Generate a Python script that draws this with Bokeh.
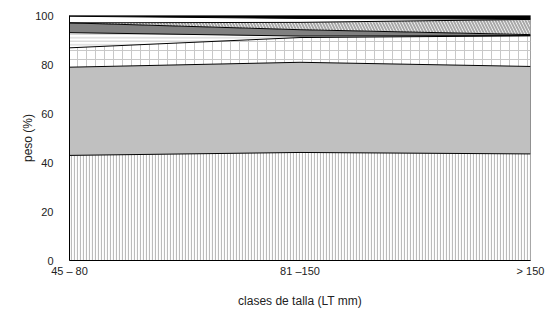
from bokeh.plotting import figure
from bokeh.models import Range1d, FixedTicker
from bokeh.embed import file_html
from bokeh.resources import INLINE

categories = ["45 – 80", "81 –150", "> 150"]
s_vertical = [42.9, 44.1, 43.5]
s_gray = [36.0, 36.8, 35.7]
s_grid = [7.9, 10.1, 12.5]
s_horiz = [6.2, 0.6, 0.1]
s_dark = [4.0, 2.6, 0.4]
s_diag = [0.0, 3.0, 6.2]
s_white = [2.7, 1.6, 0.1]
s_black = [0.3, 1.2, 1.5]
y_ticks = [0, 20, 40, 60, 80, 100]

x = list(range(len(categories)))

p = figure(width=548, height=310, output_backend="svg", toolbar_location=None,
           x_range=Range1d(0, 2), y_range=Range1d(0, 100),
           min_border_left=69, min_border_right=18, min_border_top=15, min_border_bottom=50)

layers = [
    (s_vertical, dict(fill_color="white", hatch_pattern="vertical_line", hatch_color="#bcbcbc", hatch_scale=3, hatch_weight=1.2)),
    (s_gray, dict(fill_color="#c0c0c0")),
    (s_grid, dict(fill_color="white", hatch_pattern="cross", hatch_color="#c8c8c8", hatch_scale=9, hatch_weight=1)),
    (s_horiz, dict(fill_color="white", hatch_pattern="horizontal_line", hatch_color="#c8c8c8", hatch_scale=3.5, hatch_weight=1)),
    (s_dark, dict(fill_color="#808080")),
    (s_diag, dict(fill_color="white", hatch_pattern="left_diagonal_line", hatch_color="#a8a8a8", hatch_scale=6, hatch_weight=2)),
    (s_white, dict(fill_color="white")),
    (s_black, dict(fill_color="#000000")),
]

base = [0.0] * len(x)
for vals, style in layers:
    top = [b + v for b, v in zip(base, vals)]
    p.varea(x=x, y1=base, y2=top, **style)
    base = top

# boundary lines
base = [0.0] * len(x)
for vals, style in layers[:-1]:
    top = [b + v for b, v in zip(base, vals)]
    p.line(x=x, y=top, line_color="#000000", line_width=1)
    base = top

p.grid.visible = False
p.outline_line_color = "#808080"
p.outline_line_width = 1

p.xaxis.ticker = FixedTicker(ticks=x)
p.xaxis.major_label_overrides = {i: c for i, c in enumerate(categories)}
p.yaxis.ticker = FixedTicker(ticks=y_ticks)
p.xaxis.axis_label = "clases de talla (LT mm)"
p.yaxis.axis_label = "peso (%)"

for ax in (p.xaxis, p.yaxis):
    ax.major_tick_line_color = None
    ax.minor_tick_line_color = None
    ax.axis_line_color = "#000000"
    ax.major_label_text_font = "Liberation Sans"
    ax.major_label_text_font_size = "11px"
    ax.major_label_text_color = "#222222"
    ax.axis_label_text_font = "Liberation Sans"
    ax.axis_label_text_font_size = "12px"
    ax.axis_label_text_font_style = "normal"
    ax.axis_label_text_color = "#222222"

p.xaxis.major_label_standoff = -2
p.xaxis.axis_label_standoff = 14
p.yaxis.major_label_standoff = 10
p.yaxis.axis_label_standoff = -3

open("out.html", "w").write(file_html(p, INLINE))
